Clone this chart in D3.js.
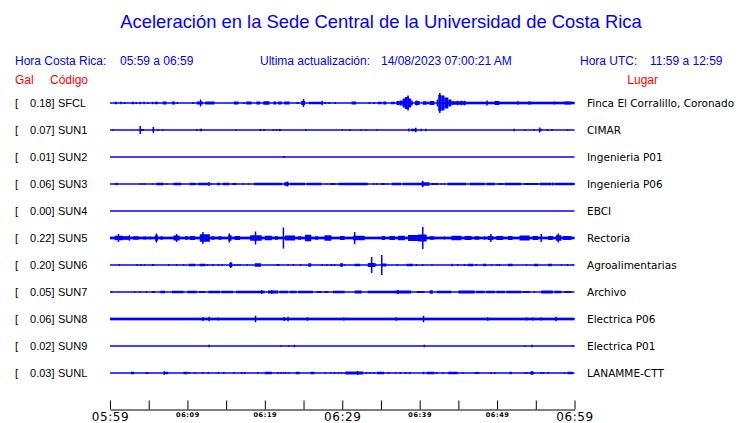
<!DOCTYPE html>
<html><head><meta charset="utf-8">
<script src="https://cdn.jsdelivr.net/npm/d3@7"></script>
<style>body{margin:0;background:#fff}svg{display:block}</style>
</head><body>
<svg id="c" width="740" height="423"></svg>
<script>
// ---------- data ----------
const title = "Aceleración en la Sede Central de la Universidad de Costa Rica";
const headerLocal = ["Hora Costa Rica:", "05:59 a 06:59"];
const headerUpdate = ["Ultima actualización:", "14/08/2023 07:00:21 AM"];
const headerUTC = ["Hora UTC:", "11:59 a 12:59"];
const stations = ["SFCL","SUN1","SUN2","SUN3","SUN4","SUN5","SUN6","SUN7","SUN8","SUN9","SUNL"];
const galMax = [0.18,0.07,0.01,0.06,0.00,0.22,0.20,0.05,0.06,0.02,0.03];
const places = ["Finca El Corralillo, Coronado","CIMAR","Ingenieria P01","Ingenieria P06","EBCI","Rectoria","Agroalimentarias","Archivo","Electrica P06","Electrica P01","LANAMME-CTT"];
const tickMinutes = [0,5,10,15,20,25,30,35,40,45,50,55,60];
const tickLabels = {0:"05:59",10:"06:09",20:"06:19",30:"06:29",40:"06:39",50:"06:49",60:"06:59"};
const majorTicks = [0,30,60];

// bursts: [start minute, end minute, amplitude (Gal)]
const trSFCL = [[0.6,0.9,.025],[1.3,1.5,.025],[1.9,1.9,.02],[2.8,3.1,.025],[3.4,3.4,.02],[3.8,4.0,.025],[4.3,4.5,.025],[4.9,4.9,.02],[5.4,5.6,.025],[5.8,6.2,.025],[6.8,7.3,.03],[8.0,8.4,.03],[8.7,8.7,.02],[10.6,10.8,.02],[11.2,12.0,.03],[11.7,11.7,.07],[12.3,13.5,.03],[16.0,16.6,.03],[17.2,17.4,.02],[17.6,18.3,.03],[18.9,19.4,.03],[19.8,20.6,.035],[21.1,21.5,.03],[21.7,22.2,.03],[22.5,23.2,.03],[24.1,24.4,.02],[24.7,25.2,.04],[25.0,25.0,.08],[25.7,27.3,.025],[27.3,27.5,.045],[27.7,27.9,.02],[28.3,28.3,.02],[29.0,29.2,.02],[31.2,31.8,.03],[33.5,33.5,.02],[34.0,34.2,.02],[34.6,35.1,.025],[35.3,35.7,.03],[36.3,36.8,.025],[37.0,37.4,.04],[37.4,37.8,.05],[37.8,38.1,.09],[38.1,38.4,.12],[38.4,38.6,.13],[38.5,38.5,.15],[38.6,38.9,.09],[38.9,39.1,.05],[39.4,40.0,.04],[39.6,39.6,.05],[40.4,40.9,.035],[40.9,41.3,.025],[41.3,41.9,.04],[42.2,42.4,.07],[42.4,42.8,.16],[42.6,42.6,.2],[42.8,43.2,.15],[43.2,43.7,.11],[43.7,44.1,.07],[44.1,44.3,.04],[44.3,46.0,.035],[44.9,44.9,.045],[45.4,45.4,.045],[45.8,45.8,.045],[46.0,60,.026],[48.7,48.7,.05],[49.7,50.3,.04],[52.7,52.7,.035],[54.0,54.4,.03],[57.4,57.4,.03],[58.7,59.6,.03]];
const trSUN1 = [[0.4,0.4,.015],[3.9,4.4,.02],[3.9,3.9,.08],[5.5,5.7,.025],[5.6,5.6,.06],[6.2,6.2,.02],[6.8,6.8,.015],[11.2,11.2,.02],[11.6,11.9,.025],[16.3,16.3,.015],[19.4,19.4,.02],[19.9,19.9,.02],[21.1,21.1,.015],[21.5,21.5,.015],[21.8,22.1,.02],[25.3,25.3,.02],[30.0,30.0,.015],[31.0,31.0,.02],[32.4,32.4,.015],[33.1,33.1,.015],[34.5,34.5,.015],[38.6,38.6,.03],[38.9,39.6,.025],[39.5,39.5,.045],[40.2,40.2,.025],[40.8,40.8,.025],[52.2,52.2,.025],[53.6,53.6,.015],[54.8,54.8,.015],[55.5,55.5,.05],[55.7,55.7,.025],[56.5,56.5,.02],[57.1,57.1,.02],[59.1,59.1,.015]];
const trSUN2 = [[22.5,22.5,.02]];
const trSUN3 = [[0.6,0.6,.015],[0.9,0.9,.025],[3.8,3.9,.015],[4.2,4.2,.015],[4.5,4.5,.015],[5.5,5.5,.015],[6.0,6.9,.025],[7.3,7.3,.015],[8.2,9.2,.025],[10.3,11.0,.025],[11.1,11.1,.015],[11.4,12.7,.025],[12.8,12.8,.04],[13.1,13.1,.015],[13.8,14.2,.025],[14.6,15.4,.025],[15.8,16.3,.02],[17.2,17.2,.015],[17.9,17.9,.015],[18.6,22.2,.025],[22.5,23.1,.035],[22.9,22.9,.05],[23.2,25.2,.025],[25.4,27.3,.025],[28.0,28.0,.015],[28.4,29.1,.02],[29.5,33.3,.025],[34.1,34.1,.015],[34.5,34.5,.015],[35.0,35.5,.02],[35.8,35.8,.015],[36.4,37.6,.025],[37.8,40.2,.025],[40.2,41.3,.035],[40.4,40.4,.065],[41.5,42.4,.02],[42.8,42.8,.015],[43.2,43.2,.015],[43.6,46.0,.025],[46.5,48.4,.025],[48.6,49.7,.025],[50.1,50.8,.02],[51.0,53.1,.025],[53.5,55.3,.02],[55.5,57.0,.025],[57.2,57.2,.03],[57.4,60,.025]];
const trSUN4 = [];
const trSUN5 = [[0,60,.027],[0.6,1.7,.045],[1.1,1.1,.08],[1.7,2.6,.035],[2.5,2.5,.055],[3.0,3.7,.035],[4.3,4.7,.03],[5.2,5.2,.03],[5.8,6.2,.055],[6.0,6.0,.09],[6.5,6.8,.035],[8.2,9.0,.05],[8.6,8.6,.08],[9.7,10.1,.035],[10.3,11.0,.04],[11.6,12.9,.075],[12.0,12.0,.12],[13.1,13.5,.035],[14.0,14.4,.035],[15.3,15.7,.055],[15.4,15.4,.09],[16.1,16.8,.04],[18.1,19.6,.055],[18.8,18.8,.13],[20.0,20.9,.045],[21.3,21.7,.035],[22.4,22.4,.21],[22.6,23.9,.05],[24.3,24.7,.035],[25.2,26.0,.065],[26.5,26.9,.035],[27.7,28.6,.055],[29.7,30.3,.04],[31.4,32.9,.045],[31.6,31.6,.12],[35.1,35.5,.04],[36.1,36.8,.04],[37.2,38.1,.045],[38.5,40.2,.06],[39.8,40.9,.07],[40.4,40.4,.22],[41.3,41.9,.035],[43.2,43.2,.03],[44.1,45.4,.045],[45.8,46.7,.04],[47.1,47.7,.035],[48.4,48.4,.035],[48.8,49.5,.04],[49.2,49.2,.08],[49.9,50.8,.04],[51.4,52.0,.04],[52.9,54.2,.05],[54.6,55.3,.04],[55.7,55.7,.08],[56.6,57.2,.04],[57.6,58.3,.055],[57.9,57.9,.09],[58.5,59.6,.04]];
const trSUN6 = [[1.2,1.2,.02],[3.5,3.5,.02],[4.0,4.0,.02],[4.5,4.5,.015],[5.4,5.7,.02],[7.6,7.6,.02],[8.6,8.6,.02],[9.5,9.5,.015],[10.2,11.0,.025],[11.6,12.3,.025],[12.6,12.6,.02],[13.3,13.3,.02],[14.0,14.0,.015],[14.5,14.5,.015],[15.4,15.8,.04],[15.6,15.6,.06],[16.1,16.1,.015],[16.5,16.5,.015],[16.8,16.8,.015],[17.7,17.7,.015],[18.7,19.5,.035],[21.6,21.6,.02],[21.8,21.8,.02],[23.0,23.0,.015],[23.7,23.7,.02],[24.6,24.6,.02],[25.6,26.0,.035],[27.4,27.4,.02],[28.0,28.0,.02],[28.6,28.6,.02],[29.0,29.0,.02],[29.7,30.1,.035],[30.3,30.3,.015],[31.6,32.3,.025],[33.3,34.3,.04],[33.8,33.8,.16],[35.0,35.7,.03],[35.1,35.1,.2],[37.1,37.1,.015],[38.3,39.1,.025],[39.6,39.6,.02],[40.4,40.4,.02],[41.6,41.6,.015],[44.1,44.3,.025],[44.9,44.9,.02],[45.8,45.8,.02],[46.2,46.9,.025],[47.3,47.3,.02],[48.2,48.6,.025],[49.3,49.3,.015],[50.0,50.0,.015],[50.3,50.3,.02],[51.4,52.0,.025],[53.8,53.8,.015],[54.8,55.3,.025],[56.6,57.1,.025],[58.3,58.3,.015],[59.1,59.1,.02],[59.8,59.8,.015]];
const trSUN7 = [[0.2,0.2,.015],[3.2,3.2,.015],[3.9,3.9,.015],[4.7,4.7,.02],[5.4,5.8,.02],[6.5,7.1,.025],[8.0,9.5,.025],[10.0,11.2,.025],[11.5,12.3,.02],[12.7,14.2,.025],[14.4,15.9,.025],[16.3,20.0,.025],[19.6,19.6,.04],[20.4,21.7,.03],[20.9,20.9,.035],[21.9,23.0,.025],[23.2,24.1,.025],[24.3,26.2,.025],[26.7,27.3,.02],[27.7,28.2,.02],[28.8,30.3,.025],[31.6,32.5,.03],[33.3,36.8,.025],[36.8,38.9,.03],[37.2,37.2,.04],[39.6,40.6,.02],[41.3,41.7,.035],[42.2,44.1,.025],[45.0,47.1,.03],[47.3,48.4,.025],[48.6,49.7,.025],[49.9,51.0,.025],[51.2,53.1,.025],[53.3,54.2,.02],[54.8,54.8,.015],[55.7,57.2,.03],[57.4,58.3,.025],[58.7,59.6,.02]];
const trSUN8 = [[0,60,.027],[12.0,12.0,.04],[12.8,12.8,.045],[14.0,14.0,.03],[18.8,18.8,.065],[22.5,22.5,.04],[23.0,23.0,.045],[25.5,25.5,.035],[30.2,30.2,.03],[37.0,37.0,.035],[40.5,40.5,.065],[48.8,48.8,.035],[53.8,53.8,.03],[54.6,54.6,.03],[55.7,55.7,.03],[57.6,57.6,.045]];
const trSUN9 = [[12.8,12.8,.025],[22.1,22.1,.015],[23.1,23.1,.015],[23.8,23.8,.025],[40.6,40.6,.025],[53.6,53.6,.015],[54.5,54.5,.025],[59.8,59.8,.02]];
const trSUNL = [[2.7,3.1,.025],[4.7,4.7,.02],[4.9,4.9,.015],[7.0,7.5,.025],[7.0,7.0,.035],[9.5,10.0,.025],[10.2,10.2,.02],[11.0,11.0,.015],[12.0,12.0,.02],[12.7,12.7,.02],[14.0,14.0,.02],[14.7,14.7,.02],[16.0,16.0,.02],[17.0,17.0,.02],[17.4,17.4,.02],[19.1,19.1,.02],[20.0,20.9,.025],[21.7,21.7,.02],[22.1,22.1,.015],[22.4,22.4,.015],[22.7,22.7,.015],[23.1,23.1,.015],[24.0,24.5,.025],[25.9,26.4,.025],[27.8,27.8,.015],[28.5,28.5,.015],[29.0,29.0,.02],[29.5,29.5,.015],[29.9,29.9,.015],[30.4,31.4,.03],[31.4,32.7,.03],[32.0,32.0,.04],[33.1,33.1,.02],[33.6,33.6,.02],[34.1,34.1,.02],[34.5,35.4,.025],[36.0,36.0,.02],[36.9,36.9,.015],[37.5,37.5,.02],[38.2,38.2,.02],[38.7,38.7,.02],[40.4,40.6,.025],[40.9,41.9,.025],[42.2,42.2,.02],[43.0,43.0,.015],[43.7,44.9,.025],[45.6,45.6,.015],[47.1,47.7,.02],[49.2,49.2,.02],[49.7,49.7,.02],[51.6,51.9,.025],[53.6,53.6,.02],[53.9,53.9,.015],[54.2,54.8,.025],[54.5,54.5,.04],[55.7,55.7,.02],[56.0,56.0,.02],[56.6,56.6,.02],[58.7,58.7,.015],[59.1,59.8,.025]];
const traces = [trSFCL,trSUN1,trSUN2,trSUN3,trSUN4,trSUN5,trSUN6,trSUN7,trSUN8,trSUN9,trSUNL];

// ---------- drawing ----------
const svg = d3.select("#c");
const BLUE = "#0000ff", RED = "#ff0000";
const SANS = "'Liberation Sans', Arial, sans-serif";
const DJ = "'DejaVu Sans', sans-serif";

const x = d3.scaleLinear().domain([0,60]).range([110,574.5]);
const y = d3.scalePoint().domain(stations).range([103,373]);
const amp = d3.scaleLinear().domain([0,0.2]).range([0,10]);

svg.append("text").attr("x",381).attr("y",28).attr("text-anchor","middle")
  .attr("font-family",SANS).attr("font-size",18.4).attr("fill",BLUE).text(title);

const hdr = svg.append("g").attr("font-family",SANS).attr("font-size",12).attr("fill",BLUE);
hdr.append("text").attr("x",15).attr("y",65).text(headerLocal[0]);
hdr.append("text").attr("x",120).attr("y",65).text(headerLocal[1]);
hdr.append("text").attr("x",260).attr("y",65).text(headerUpdate[0]);
hdr.append("text").attr("x",381).attr("y",65).text(headerUpdate[1]);
hdr.append("text").attr("x",580).attr("y",65).text(headerUTC[0]);
hdr.append("text").attr("x",650).attr("y",65).text(headerUTC[1]);

const sub = svg.append("g").attr("font-family",SANS).attr("font-size",12).attr("fill",RED);
sub.append("text").attr("x",15).attr("y",84).text("Gal");
sub.append("text").attr("x",50).attr("y",84).text("Código");
sub.append("text").attr("x",658).attr("y",84).attr("text-anchor","end").text("Lugar");

const rows = svg.append("g").selectAll("g").data(stations).join("g")
  .attr("transform", d => `translate(0,${y(d)})`);

rows.append("text").attr("x",15).attr("y",4).attr("font-family",SANS).attr("font-size",11).text("[");
rows.append("text").attr("x",54.5).attr("y",4).attr("text-anchor","end").attr("font-family",SANS).attr("font-size",11)
  .text((d,i) => galMax[i].toFixed(2) + "]");
rows.append("text").attr("x",58).attr("y",4).attr("font-family",SANS).attr("font-size",11).text(d => d);
rows.append("text").attr("x",587).attr("y",4).attr("font-family",DJ).attr("font-size",10.5)
  .text((d,i) => places[i]);

rows.append("line").attr("x1",x(0)).attr("x2",x(60)).attr("y1",0).attr("y2",0)
  .attr("stroke",BLUE).attr("stroke-width",1.3);

rows.each(function(d,i){
  d3.select(this).selectAll("rect").data(traces[i]).join("rect")
    .attr("x", b => b[0]===b[1] ? x(b[0]) - 0.75 : x(b[0]))
    .attr("width", b => Math.max(x(b[1]) - x(b[0]), 1.5))
    .attr("y", b => -Math.max(amp(b[2]), 0.65))
    .attr("height", b => 2*Math.max(amp(b[2]), 0.65))
    .attr("fill", BLUE);
});

// time axis
const axis = d3.axisBottom(x).tickValues(tickMinutes).tickSizeInner(-9).tickSizeOuter(0)
  .tickFormat(m => tickLabels[m] || "");
const ag = svg.append("g").attr("transform","translate(0,409.5)").call(axis);
ag.select(".domain").attr("stroke","#000");
ag.selectAll(".tick line").attr("stroke","#000");
ag.selectAll(".tick text")
  .attr("fill","#000")
  .attr("font-family",DJ)
  .attr("dy",null)
  .attr("y", m => majorTicks.includes(m) ? 11 : 7.5)
  .attr("font-size", m => majorTicks.includes(m) ? 12 : 6.5)
  .attr("font-weight", m => majorTicks.includes(m) ? "normal" : "bold")
  .attr("letter-spacing", m => majorTicks.includes(m) ? 0.6 : 0.6)
  .attr("dominant-baseline","auto");
</script>
</body></html>
